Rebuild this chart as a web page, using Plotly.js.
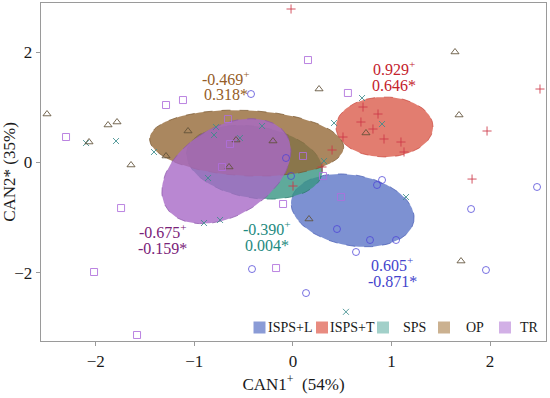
<!DOCTYPE html>
<html><head><meta charset="utf-8">
<script src="https://cdn.plot.ly/plotly-3.0.1.min.js"></script>
<style>html,body{margin:0;padding:0;background:#fff}#chart{width:550px;height:398px}</style>
</head><body><div id="chart"></div>
<script>
// ---- data ----
const groups = ["ISPS+L", "ISPS+T", "SPS", "OP", "TR"];
// group centroids (printed labels): CAN1, CAN2
const canX = [0.605, 0.929, -0.390, -0.469, -0.675];
const canY = [-0.871, 0.646, 0.004, 0.318, -0.159];
// ellipse geometry (centre, semi-axes in CAN1 units, angle in screen degrees)
const ellCX = [0.605, 0.929, -0.390, -0.469, -0.675];
const ellCY = [-0.871, 0.643, 0.004, 0.350, -0.159];
const ellA = [0.631, 0.492, 0.696, 0.985, 0.712];
const ellB = [0.358, 0.304, 0.363, 0.332, 0.452];
const ellAngle = [-10.3, 0, -9.2, -2.7, 30.7];
// label anchor positions
const labelX = [1.005, 1.025, -0.263, -0.678, -1.318];
const labelY = [-1.998, 1.559, -1.345, 1.378, -1.399];

// individual scores
const islX = [-0.425, -0.070, -0.019, 0.853, 0.904, 2.476, 1.807, 0.447, 0.782, 1.046, 0.640, 1.958, 0.133, -0.415];
const islY = [1.241, 0.080, -0.247, -0.410, -0.319, -0.446, -0.846, -1.209, -1.408, -1.408, -1.626, -1.953, -2.371, -1.935];
const istX = [-0.019, 2.506, 1.969, 1.817, 0.711, 0.863, 0.690, 0.812, 0.924, 1.096, 1.127, 0.508, 0.397, 0.001, 0.295];
const istY = [2.784, 1.332, 0.570, -0.302, 1.005, 0.878, 0.733, 0.606, 0.425, 0.370, 0.189, 0.461, 0.225, -0.428, -0.083];
const spsX = [-2.098, -1.794, -1.409, -0.780, -0.800, -0.537, -0.313, -0.861, -0.902, -0.739, 0.315, 0.417, 0.701, 0.904, 1.147, 0.538];
const spsY = [0.352, 0.388, 0.189, 0.642, 0.497, 0.443, 0.661, -0.283, -1.100, -1.045, 0.025, 0.715, 1.169, 0.697, -0.628, -2.712];
const opX = [-2.494, -2.068, -1.875, -1.784, -1.642, -1.287, -1.064, -0.577, -0.202, -0.648, 0.265, 1.644, 1.685, 0.741, 0.163, 1.705];
const opY = [0.878, 0.370, 0.679, 0.733, -0.047, 0.116, 0.570, 0.406, 0.388, -0.083, 1.332, 2.004, 0.860, 0.534, -1.027, -1.790];
const trX = [-2.301, -1.287, -1.115, -0.658, -0.638, -0.719, -1.743, -2.017, -1.581, -0.171, -0.100, 0.305, 0.102, 0.153, 0.558, 0.488];
const trY = [0.461, 1.042, 1.132, 0.788, 0.334, -0.083, -0.828, -1.989, -3.132, -1.917, -0.755, -0.247, 0.116, 1.858, 1.260, -0.628];
const ptsX = [islX, istX, spsX, opX, trX];
const ptsY = [islY, istY, spsY, opY, trY];

// ---- styles ----
const fillCol = ["rgba(93,118,199,0.8)", "rgba(219,92,76,0.8)", "rgba(55,149,130,0.8)", "rgba(149,105,55,0.8)", "rgba(167,105,199,0.8)"];
const edgeCol = ["rgba(70,90,180,0.9)", "rgba(200,70,60,0.9)", "rgba(40,120,105,0.9)", "rgba(120,85,45,0.9)", "rgba(140,85,170,0.9)"];
const keyCol = ["#8a9bd6", "#e88b80", "#a2d0c9", "#cbb190", "#d2b0e6"];
const txtCol = ["#4444cc", "#c4222c", "#1e8a80", "#955d27", "#7a2278"];
const ptCol = ["rgba(75,65,215,0.75)", "rgba(205,55,70,0.85)", "rgba(60,140,140,0.85)", "rgba(95,80,55,0.85)", "rgba(175,110,220,0.85)"];
const ptSym = ["circle-open", "cross-thin-open", "x-thin-open", "triangle-up-open", "square-open"];
const ptSize = [7, 6.5, 6, 7, 7];

const FONT = "'Liberation Serif', 'Times New Roman', Times, serif";
const K = 98.6 / 55.1; // screen aspect (px per CAN1 unit / px per CAN2 unit)

function ellipse(i) {
  const xs = [], ys = [];
  const th = ellAngle[i] * Math.PI / 180;
  for (let k = 0; k <= 120; k++) {
    const t = 2 * Math.PI * k / 120;
    const u = ellA[i] * Math.cos(t), v = ellB[i] * Math.sin(t);
    const X = u * Math.cos(th) - v * Math.sin(th);
    const Y = u * Math.sin(th) + v * Math.cos(th);
    xs.push(ellCX[i] + X);
    ys.push(ellCY[i] + Y * K);
  }
  return {xs, ys};
}

const traces = [];
groups.forEach((g, i) => {
  const e = ellipse(i);
  traces.push({x: e.xs, y: e.ys, type: "scatter", mode: "lines", fill: "toself",
    fillcolor: fillCol[i], line: {color: edgeCol[i], width: 0.8, dash: "dash"},
    name: g, showlegend: false, hoverinfo: "skip"});
});
groups.forEach((g, i) => {
  traces.push({x: ptsX[i], y: ptsY[i], type: "scatter", mode: "markers", name: g,
    showlegend: false,
    marker: {symbol: ptSym[i], size: ptSize[i], color: ptCol[i], line: {width: 1, color: ptCol[i]}}});
});

const fmt = v => v.toFixed(3);
const annotations = [];
groups.forEach((g, i) => {
  annotations.push({x: labelX[i], y: labelY[i], xref: "x", yref: "y", yshift: 8.5,
    text: fmt(canX[i]) + "<sup>+</sup>", showarrow: false,
    font: {family: FONT, size: 16, color: txtCol[i]}});
  annotations.push({x: labelX[i], y: labelY[i], xref: "x", yref: "y", yshift: -8.5,
    text: fmt(canY[i]) + "*", showarrow: false,
    font: {family: FONT, size: 16, color: txtCol[i]}});
});

// custom legend (key squares + names), pixel layout inside plot area
const plotL = 41, plotR = 546, plotT = 3, plotB = 341;
const px2x = p => (p - plotL) / (plotR - plotL);
const py2y = p => (plotB - p) / (plotB - plotT);
const keyLeft = [253.5, 316, 377, 438, 499];
const textLeft = [267, 329, 402, 465, 519];
const shapes = [];
groups.forEach((g, i) => {
  shapes.push({type: "rect", xref: "paper", yref: "paper",
    x0: px2x(keyLeft[i]), x1: px2x(keyLeft[i] + 12), y0: py2y(333.5), y1: py2y(321.5),
    fillcolor: keyCol[i], line: {width: 0}});
  annotations.push({xref: "paper", yref: "paper", x: px2x(textLeft[i]), y: py2y(327.5),
    xanchor: "left", yanchor: "middle", xshift: -1, text: g, showarrow: false,
    font: {family: FONT, size: 14, color: "#1a1a1a"}});
});

const layout = {
  width: 550, height: 398,
  margin: {l: plotL, r: 550 - plotR, t: plotT, b: 398 - plotB},
  paper_bgcolor: "#fff", plot_bgcolor: "#fff",
  showlegend: false,
  font: {family: FONT, size: 17, color: "#1a1a1a"},
  xaxis: {range: [-2.555, 2.567], tickvals: [-2, -1, 0, 1, 2], showgrid: false, zeroline: false,
    showline: true, mirror: true, linecolor: "#9a9a9a", linewidth: 1.3,
    ticks: "outside", ticklen: 4, tickcolor: "#9a9a9a", tickwidth: 1,
    tickfont: {family: FONT, size: 17, color: "#1a1a1a"},
    title: {text: "CAN1<sup>+</sup>\u00a0\u00a0(54%)", font: {family: FONT, size: 17, color: "#1a1a1a"}, standoff: 8},
    automargin: false},
  yaxis: {range: [-3.241, 2.893], tickvals: [-2, 0, 2], showgrid: false, zeroline: false,
    showline: true, mirror: true, linecolor: "#9a9a9a", linewidth: 1.3,
    ticks: "outside", ticklen: 4, tickcolor: "#9a9a9a", tickwidth: 1,
    tickfont: {family: FONT, size: 17, color: "#1a1a1a"},
    title: {text: "CAN2*\u00a0(35%)", font: {family: FONT, size: 17, color: "#1a1a1a"}, standoff: 4},
    automargin: false},
  annotations: annotations,
  shapes: shapes
};

Plotly.newPlot("chart", traces, layout, {staticPlot: true, displayModeBar: false});
</script>
</body></html>
